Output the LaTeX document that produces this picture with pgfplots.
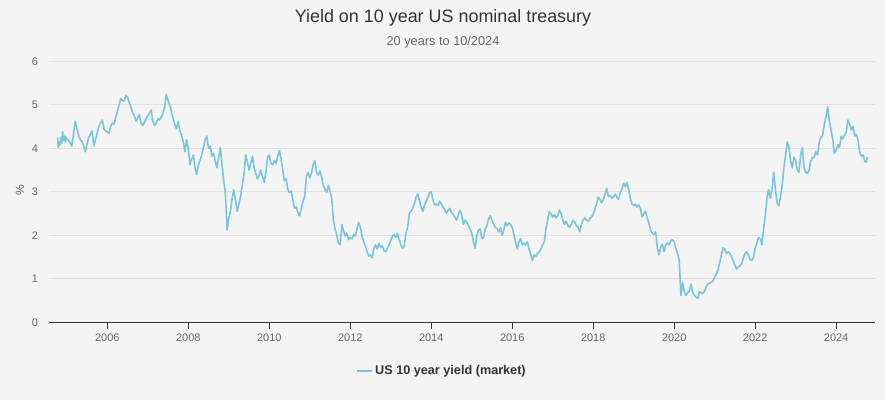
\documentclass[border=0pt]{standalone}
\usepackage{pgfplots}
\pgfplotsset{compat=1.18}
\usepackage{pgfplotstable}
\usepackage{fontspec}
\setmainfont{Liberation Sans}
\definecolor{bgc}{RGB}{244,244,244}
\definecolor{linec}{RGB}{122,197,217}
\definecolor{gridc}{RGB}{224,224,224}
\definecolor{titlec}{RGB}{51,51,51}
\definecolor{tickc}{RGB}{102,102,102}

\pgfplotstableread{
x y
2004.771 4.25
2004.792 4.02
2004.812 4.15
2004.833 4.08
2004.854 4.25
2004.875 4.12
2004.896 4.38
2004.917 4.18
2004.938 4.28
2004.958 4.15
2004.979 4.26
2005.000 4.22
2005.042 4.18
2005.083 4.12
2005.125 4.05
2005.167 4.35
2005.208 4.62
2005.250 4.45
2005.292 4.30
2005.333 4.20
2005.375 4.15
2005.417 4.05
2005.458 3.92
2005.500 4.10
2005.542 4.25
2005.583 4.32
2005.625 4.40
2005.667 4.05
2005.708 4.20
2005.750 4.35
2005.792 4.50
2005.833 4.58
2005.875 4.65
2005.917 4.45
2005.958 4.40
2006.000 4.38
2006.042 4.35
2006.083 4.50
2006.125 4.58
2006.167 4.55
2006.208 4.72
2006.250 4.85
2006.292 5.00
2006.333 5.15
2006.375 5.10
2006.417 5.08
2006.458 5.22
2006.500 5.18
2006.542 5.05
2006.583 4.95
2006.625 4.82
2006.667 4.75
2006.708 4.62
2006.750 4.70
2006.792 4.78
2006.833 4.58
2006.875 4.52
2006.917 4.60
2006.958 4.68
2007.000 4.75
2007.042 4.82
2007.083 4.88
2007.125 4.62
2007.167 4.52
2007.208 4.58
2007.250 4.68
2007.292 4.65
2007.333 4.72
2007.375 4.80
2007.417 4.95
2007.458 5.24
2007.500 5.10
2007.542 5.00
2007.583 4.85
2007.625 4.68
2007.667 4.55
2007.708 4.45
2007.750 4.62
2007.792 4.40
2007.833 4.30
2007.875 4.15
2007.917 3.92
2007.958 4.20
2008.000 4.00
2008.042 3.62
2008.083 3.75
2008.125 3.85
2008.167 3.55
2008.208 3.40
2008.250 3.62
2008.292 3.72
2008.333 3.85
2008.375 4.02
2008.417 4.20
2008.458 4.28
2008.500 4.00
2008.542 4.05
2008.583 3.82
2008.625 3.88
2008.667 3.70
2008.708 3.55
2008.750 3.80
2008.792 4.02
2008.833 3.62
2008.875 3.25
2008.917 2.95
2008.958 2.12
2009.000 2.40
2009.042 2.55
2009.083 2.85
2009.125 3.05
2009.167 2.80
2009.208 2.55
2009.250 2.72
2009.292 2.90
2009.333 3.15
2009.375 3.40
2009.417 3.85
2009.458 3.70
2009.500 3.50
2009.542 3.65
2009.583 3.82
2009.625 3.55
2009.667 3.42
2009.708 3.30
2009.750 3.38
2009.792 3.50
2009.833 3.35
2009.875 3.22
2009.917 3.45
2009.958 3.80
2010.000 3.85
2010.042 3.65
2010.083 3.62
2010.125 3.72
2010.167 3.65
2010.208 3.82
2010.250 3.95
2010.292 3.75
2010.333 3.50
2010.375 3.25
2010.417 3.30
2010.458 3.05
2010.500 2.98
2010.542 3.02
2010.583 2.80
2010.625 2.62
2010.667 2.65
2010.708 2.52
2010.750 2.45
2010.792 2.62
2010.833 2.78
2010.875 2.90
2010.917 3.35
2010.958 3.45
2011.000 3.32
2011.042 3.42
2011.083 3.62
2011.125 3.72
2011.167 3.45
2011.208 3.38
2011.250 3.48
2011.292 3.35
2011.333 3.15
2011.375 3.05
2011.417 2.98
2011.458 3.15
2011.500 3.02
2011.542 2.85
2011.583 2.35
2011.625 2.15
2011.667 2.00
2011.708 1.82
2011.750 1.78
2011.792 2.25
2011.833 2.10
2011.875 1.98
2011.917 2.05
2011.958 1.90
2012.000 1.95
2012.042 1.92
2012.083 2.02
2012.125 1.98
2012.167 2.15
2012.208 2.30
2012.250 2.18
2012.292 1.98
2012.333 1.85
2012.375 1.75
2012.417 1.62
2012.458 1.52
2012.500 1.55
2012.542 1.48
2012.583 1.68
2012.625 1.78
2012.667 1.68
2012.708 1.82
2012.750 1.72
2012.792 1.75
2012.833 1.65
2012.875 1.62
2012.917 1.70
2012.958 1.78
2013.000 1.88
2013.042 1.98
2013.083 2.02
2013.125 1.95
2013.167 2.05
2013.208 1.90
2013.250 1.78
2013.292 1.70
2013.333 1.75
2013.375 2.05
2013.417 2.18
2013.458 2.50
2013.500 2.55
2013.542 2.62
2013.583 2.72
2013.625 2.88
2013.667 2.95
2013.708 2.80
2013.750 2.65
2013.792 2.55
2013.833 2.70
2013.875 2.78
2013.917 2.88
2013.958 2.98
2014.000 3.00
2014.042 2.82
2014.083 2.70
2014.125 2.72
2014.167 2.68
2014.208 2.78
2014.250 2.72
2014.292 2.65
2014.333 2.60
2014.375 2.50
2014.417 2.58
2014.458 2.62
2014.500 2.52
2014.542 2.48
2014.583 2.42
2014.625 2.35
2014.667 2.45
2014.708 2.58
2014.750 2.48
2014.792 2.25
2014.833 2.35
2014.875 2.30
2014.917 2.22
2014.958 2.15
2015.000 2.05
2015.042 1.85
2015.083 1.70
2015.125 2.00
2015.167 2.12
2015.208 2.15
2015.250 1.92
2015.292 1.95
2015.333 2.15
2015.375 2.22
2015.417 2.38
2015.458 2.45
2015.500 2.35
2015.542 2.25
2015.583 2.18
2015.625 2.15
2015.667 2.08
2015.708 2.18
2015.750 2.00
2015.792 2.12
2015.833 2.30
2015.875 2.22
2015.917 2.28
2015.958 2.25
2016.000 2.18
2016.042 2.02
2016.083 1.85
2016.125 1.68
2016.167 1.85
2016.208 1.92
2016.250 1.78
2016.292 1.82
2016.333 1.78
2016.375 1.85
2016.417 1.68
2016.458 1.55
2016.500 1.42
2016.542 1.55
2016.583 1.52
2016.625 1.58
2016.667 1.62
2016.708 1.68
2016.750 1.78
2016.792 1.85
2016.833 2.15
2016.875 2.35
2016.917 2.55
2016.958 2.50
2017.000 2.42
2017.042 2.48
2017.083 2.40
2017.125 2.45
2017.167 2.58
2017.208 2.50
2017.250 2.35
2017.292 2.25
2017.333 2.32
2017.375 2.22
2017.417 2.18
2017.458 2.25
2017.500 2.35
2017.542 2.30
2017.583 2.22
2017.625 2.18
2017.667 2.08
2017.708 2.25
2017.750 2.35
2017.792 2.40
2017.833 2.35
2017.875 2.32
2017.917 2.38
2017.958 2.42
2018.000 2.48
2018.042 2.60
2018.083 2.72
2018.125 2.88
2018.167 2.82
2018.208 2.75
2018.250 2.82
2018.292 2.95
2018.333 3.08
2018.375 2.90
2018.417 2.92
2018.458 2.85
2018.500 2.88
2018.542 2.95
2018.583 2.88
2018.625 2.82
2018.667 2.98
2018.708 3.05
2018.750 3.20
2018.792 3.12
2018.833 3.22
2018.875 3.05
2018.917 2.85
2018.958 2.72
2019.000 2.68
2019.042 2.72
2019.083 2.65
2019.125 2.70
2019.167 2.62
2019.208 2.42
2019.250 2.50
2019.292 2.55
2019.333 2.40
2019.375 2.28
2019.417 2.12
2019.458 2.05
2019.500 2.02
2019.542 2.08
2019.583 1.72
2019.625 1.55
2019.667 1.72
2019.708 1.80
2019.750 1.62
2019.792 1.78
2019.833 1.82
2019.875 1.78
2019.917 1.88
2019.958 1.90
2020.000 1.85
2020.042 1.70
2020.083 1.58
2020.125 1.42
2020.167 0.62
2020.208 0.92
2020.250 0.70
2020.292 0.62
2020.333 0.68
2020.375 0.72
2020.417 0.88
2020.458 0.68
2020.500 0.62
2020.542 0.58
2020.583 0.55
2020.625 0.70
2020.667 0.68
2020.708 0.66
2020.750 0.72
2020.792 0.82
2020.833 0.88
2020.875 0.90
2020.917 0.92
2020.958 0.95
2021.000 1.05
2021.042 1.12
2021.083 1.20
2021.125 1.38
2021.167 1.55
2021.208 1.72
2021.250 1.68
2021.292 1.58
2021.333 1.62
2021.375 1.58
2021.417 1.50
2021.458 1.42
2021.500 1.32
2021.542 1.22
2021.583 1.28
2021.625 1.30
2021.667 1.35
2021.708 1.48
2021.750 1.58
2021.792 1.62
2021.833 1.55
2021.875 1.45
2021.917 1.42
2021.958 1.50
2022.000 1.70
2022.042 1.82
2022.083 1.95
2022.125 1.92
2022.167 1.78
2022.208 2.15
2022.250 2.45
2022.292 2.85
2022.333 3.05
2022.375 2.85
2022.417 3.05
2022.458 3.45
2022.500 3.05
2022.542 2.75
2022.583 2.68
2022.625 2.88
2022.667 3.15
2022.708 3.55
2022.750 3.82
2022.792 4.15
2022.833 4.05
2022.875 3.72
2022.917 3.55
2022.958 3.80
2023.000 3.72
2023.042 3.50
2023.083 3.45
2023.125 3.85
2023.167 4.02
2023.208 3.55
2023.250 3.45
2023.292 3.42
2023.333 3.50
2023.375 3.72
2023.417 3.78
2023.458 3.80
2023.500 3.92
2023.542 3.85
2023.583 4.15
2023.625 4.25
2023.667 4.30
2023.708 4.55
2023.750 4.72
2023.792 4.95
2023.833 4.62
2023.875 4.42
2023.917 4.20
2023.958 3.88
2024.000 3.95
2024.042 4.08
2024.083 4.02
2024.125 4.28
2024.167 4.22
2024.208 4.30
2024.250 4.38
2024.292 4.65
2024.333 4.55
2024.375 4.42
2024.417 4.50
2024.458 4.28
2024.500 4.32
2024.542 4.18
2024.583 3.90
2024.625 3.82
2024.667 3.85
2024.708 3.70
2024.750 3.68
2024.771 3.80
}\yields

\begin{document}
\begin{tikzpicture}[x=1bp,y=1bp]
\fill[bgc] (0,0) rectangle (885,400);
\useasboundingbox (0,0) rectangle (885,400);
\node[font=\fontsize{18}{21}\selectfont, text=titlec] at (443,382) {Yield on 10 year US nominal treasury};
\node[font=\fontsize{12.8}{15}\selectfont, text=tickc] at (443,358) {20 years to 10/2024};
\node[font=\fontsize{12}{14}\selectfont, text=tickc, rotate=90] at (20,210) {\%};
\begin{axis}[
  at={(49bp,77.7bp)}, anchor=south west,
  scale only axis, width=826bp, height=261bp,
  xmin=2004.56, xmax=2024.96, ymin=0, ymax=6,
  axis x line*=bottom, axis y line*=left,
  x axis line style={draw=titlec, line width=0.9pt, -},
  y axis line style={draw=none},
  xtick={2006,2008,...,2024},
  ytick={0,1,...,6},
  xtick style={draw=titlec, line width=0.8pt},
  ytick style={draw=none},
  tick align=outside, major tick length=6.5bp,
  ymajorgrids, grid style={gridc, line width=0.7pt},
  xticklabel style={/pgf/number format/1000 sep={}, font=\fontsize{11}{13}\selectfont, text=tickc, yshift=-2bp},
  yticklabel style={font=\fontsize{11}{13}\selectfont, text=tickc, xshift=-1bp},
  /pgf/number format/assume math mode=true,
  legend style={draw=none, fill=none, at={(0.476,-0.187)}, anchor=center,
    font=\bfseries\fontsize{12.7}{15}\selectfont, text=titlec},
  legend image code/.code={\draw[#1] (0bp,0bp) -- (15bp,0bp);},
]
\addplot[color=linec, line width=1.6pt, no marks, line join=round] table[x=x,y=y] {\yields};
\addlegendentry{US 10 year yield (market)}
\end{axis}
\end{tikzpicture}
\end{document}
